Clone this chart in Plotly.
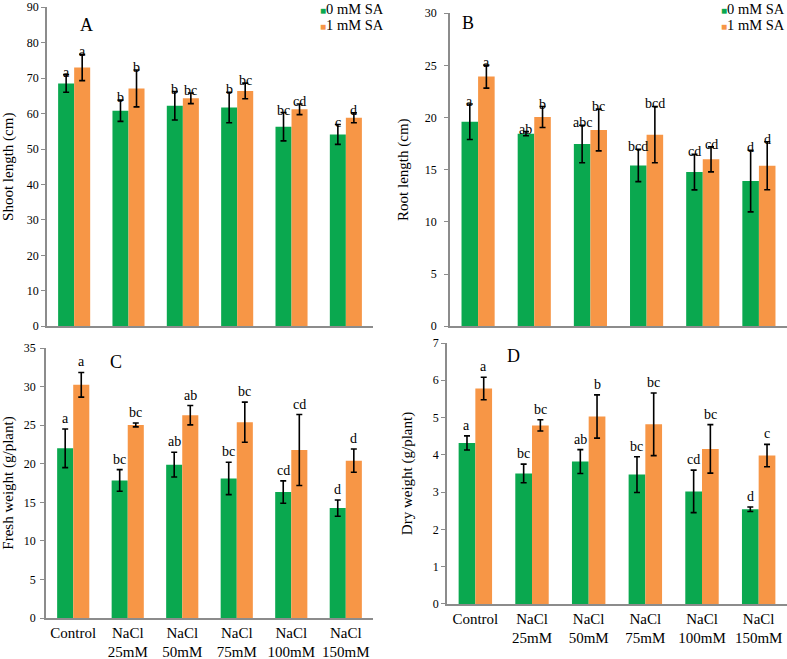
import plotly.graph_objects as go

# ---------------- data ----------------
categories = ["Control", "NaCl<br>25mM", "NaCl<br>50mM", "NaCl<br>75mM", "NaCl<br>100mM", "NaCl<br>150mM"]
series_names = ["0 mM SA", "1 mM SA"]

shoot_0 = [68.5, 60.8, 62.2, 61.7, 56.3, 54.1]
shoot_0_err = [2.5, 3.0, 4.0, 4.3, 4.0, 2.8]
shoot_1 = [73.0, 67.1, 64.3, 66.4, 61.2, 58.8]
shoot_1_err = [3.7, 5.2, 1.5, 2.2, 1.5, 1.4]
shoot_0_let = ["a", "b", "b", "b", "bc", "c"]
shoot_1_let = ["a", "b", "bc", "bc", "cd", "d"]

root_0 = [19.6, 18.45, 17.46, 15.41, 14.77, 13.91]
root_0_err = [1.7, 0.2, 1.8, 1.55, 1.7, 2.95]
root_1 = [23.92, 20.05, 18.8, 18.36, 15.99, 15.38]
root_1_err = [1.1, 1.0, 2.0, 2.7, 1.2, 2.3]
root_0_let = ["a", "ab", "abc", "bcd", "cd", "d"]
root_1_let = ["a", "b", "bc", "bcd", "cd", "d"]

fresh_0 = [22.0, 17.84, 19.88, 18.1, 16.33, 14.25]
fresh_0_err = [2.5, 1.4, 1.6, 2.1, 1.45, 1.05]
fresh_1 = [30.23, 25.03, 26.29, 25.38, 21.78, 20.4]
fresh_1_err = [1.6, 0.25, 1.25, 2.6, 4.6, 1.5]
fresh_0_let = ["a", "bc", "ab", "bc", "cd", "d"]
fresh_1_let = ["a", "bc", "ab", "bc", "cd", "d"]

dry_0 = [4.32, 3.50, 3.82, 3.47, 3.02, 2.54]
dry_0_err = [0.19, 0.25, 0.32, 0.48, 0.57, 0.06]
dry_1 = [5.78, 4.79, 5.03, 4.82, 4.16, 3.98]
dry_1_err = [0.3, 0.15, 0.58, 0.84, 0.65, 0.3]
dry_0_let = ["a", "bc", "ab", "bc", "cd", "d"]
dry_1_let = ["a", "bc", "b", "bc", "bc", "c"]

y_titles = ["Shoot length (cm)", "Root length (cm)", "Fresh weight (g/plant)", "Dry weight (g/plant)"]
panel_labels = ["A", "B", "C", "D"]
y_max = [90, 30, 35, 7]
y_dtick = [10, 5, 5, 1]

# ---------------- style ----------------
GREEN = "#0aa84f"
ORANGE = "#f79646"
FONT = "Liberation Serif"
AXIS_COL = "#8c8c8c"
BARGAP = 0.41

panels = [
    dict(v=(shoot_0, shoot_1), e=(shoot_0_err, shoot_1_err), l=(shoot_0_let, shoot_1_let),
         xdom=[0.0597, 0.474], ydom=[0.505, 0.989], lab=(0.12, 0.945), let_shift=-7, ticks=False,
         tls=0, tstand=13),
    dict(v=(root_0, root_1), e=(root_0_err, root_1_err), l=(root_0_let, root_1_let),
         xdom=[0.5718, 1.0], ydom=[0.505, 0.980], lab=(0.053, 0.968), let_shift=-7, ticks=False,
         tls=5, tstand=13),
    dict(v=(fresh_0, fresh_1), e=(fresh_0_err, fresh_1_err), l=(fresh_0_let, fresh_1_let),
         xdom=[0.0584, 0.474], ydom=[0.0622, 0.4719], lab=(0.214, 0.948), let_shift=1, ticks=True,
         tls=2, tstand=9),
    dict(v=(dry_0, dry_1), e=(dry_0_err, dry_1_err), l=(dry_0_let, dry_1_let),
         xdom=[0.568, 1.0], ydom=[0.0835, 0.4795], lab=(0.197, 0.95), let_shift=1, ticks=True,
         tls=0, tstand=17),
]

fig = go.Figure()
annotations = []
layout_axes = {}
xidx = list(range(len(categories)))
half = (1 - BARGAP) / 4.0

for k, p in enumerate(panels):
    n = "" if k == 0 else str(k + 1)
    xa, ya = "x" + n, "y" + n
    for s, col in enumerate([GREEN, ORANGE]):
        fig.add_trace(go.Bar(
            x=xidx, y=p["v"][s], name=series_names[s], marker=dict(color=col, line=dict(width=0)),
            error_y=dict(type="data", array=p["e"][s], color="black", thickness=1.6, width=3),
            xaxis=xa, yaxis=ya, showlegend=False,
        ))
        off = -half if s == 0 else half
        for i in xidx:
            annotations.append(dict(
                x=i + off, y=p["v"][s][i] + p["e"][s][i], xref=xa, yref=ya,
                text=p["l"][s][i], showarrow=False, yanchor="bottom", xanchor="center",
                yshift=p["let_shift"], font=dict(family=FONT, size=14, color="black"),
            ))
    annotations.append(dict(
        x=p["lab"][0], y=p["lab"][1], xref=xa + " domain", yref=ya + " domain",
        text=panel_labels[k], showarrow=False, xanchor="center", yanchor="middle",
        font=dict(family=FONT, size=18, color="black"),
    ))
    layout_axes["xaxis" + n] = dict(
        domain=p["xdom"], anchor=ya, range=[-0.5, 5.5], tickmode="array", tickvals=xidx,
        ticktext=categories, showticklabels=p["ticks"], ticks="", showline=True,
        linecolor=AXIS_COL, linewidth=1.5, showgrid=False, zeroline=False, automargin=False,
        tickfont=dict(family=FONT, size=15, color="black"), ticklabeloverflow="allow",
    )
    layout_axes["yaxis" + n] = dict(
        domain=p["ydom"], anchor=xa, range=[0, y_max[k]], dtick=y_dtick[k], ticks="outside",
        ticklen=4, tickcolor=AXIS_COL, showline=True, linecolor=AXIS_COL, linewidth=1.5,
        showgrid=False, zeroline=False, automargin=False, ticklabeloverflow="allow",
        ticklabelstandoff=p["tls"],
        tickfont=dict(family=FONT, size=12, color="black"),
        title=dict(text=y_titles[k], font=dict(family=FONT, size=15, color="black"), standoff=p["tstand"]),
    )

# legends (as in the original: one per top panel), right-aligned text blocks
for lx in [0.49, 1.0]:
    for s, col in enumerate([GREEN, ORANGE]):
        annotations.append(dict(
            x=lx, y=[0.987, 0.962][s], xref="paper", yref="paper", xanchor="right", yanchor="middle",
            text=f"<span style='color:{col};font-size:10px'>■</span>{series_names[s]}",
            showarrow=False, font=dict(family=FONT, size=14.5, color="black"),
        ))

fig.update_layout(
    width=787, height=659, margin=dict(l=0, r=0, t=0, b=0, autoexpand=False),
    paper_bgcolor="white", plot_bgcolor="white", barmode="group", bargap=BARGAP, bargroupgap=0,
    annotations=annotations, showlegend=False, **layout_axes,
)

fig.write_html(
    "out.html",
    config={"displayModeBar": False},
    post_script="document.body.style.margin='0';document.body.style.overflow='hidden';",
)
